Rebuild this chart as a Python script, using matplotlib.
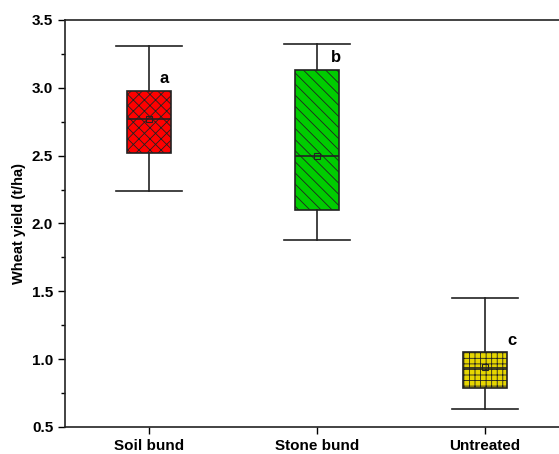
import matplotlib
matplotlib.use("Agg")
import matplotlib.pyplot as plt
from matplotlib.ticker import MultipleLocator

plt.rcParams['font.family'] = ['Liberation Sans', 'DejaVu Sans']
plt.rcParams['hatch.linewidth'] = 0.6

categories = ["Soil bund", "Stone bund", "Untreated"]
whislo = [2.24, 1.88, 0.63]
q1 = [2.52, 2.10, 0.79]
med = [2.77, 2.50, 0.935]
mean = [2.77, 2.50, 0.94]
q3 = [2.98, 3.13, 1.05]
whishi = [3.31, 3.32, 1.45]
letters = ["a", "b", "c"]
letter_y = [3.07, 3.22, 1.14]

colors = ["#FF0000", "#00CC00", "#E6D600"]
hatches = ["xxx", "\\\\\\", "+++"]
letter_dx = [0.09, 0.11, 0.16]

fig = plt.figure(figsize=(5.59, 4.54), dpi=100)
ax = fig.add_axes([0.1163, 0.0595, 0.9017, 0.8965])

stats = []
for i, c in enumerate(categories):
    stats.append(dict(label=c, whislo=whislo[i], q1=q1[i], med=med[i],
                      q3=q3[i], whishi=whishi[i], mean=mean[i], fliers=[]))

positions = [1, 2, 3]
bp = ax.bxp(stats, positions=positions, widths=0.26, capwidths=0.39,
            patch_artist=True, showmeans=True, showfliers=False,
            meanprops=dict(marker='s', markersize=4, markerfacecolor='none',
                           markeredgecolor='#222222', markeredgewidth=0.8),
            medianprops=dict(color='#222222', linewidth=1.2),
            whiskerprops=dict(color='#222222', linewidth=1.2),
            capprops=dict(color='#222222', linewidth=1.2),
            boxprops=dict(linewidth=1.2))
for patch, col, h in zip(bp['boxes'], colors, hatches):
    patch.set_facecolor(col)
    patch.set_edgecolor('#222222')
    patch.set_hatch(h)

for x, dx, l, y in zip(positions, letter_dx, letters, letter_y):
    ax.text(x + dx, y, l, fontsize=12, fontweight='bold', ha='center', va='center')

ax.set_xlim(0.5, 3.5)
ax.set_ylim(0.5, 3.5)
ax.yaxis.set_minor_locator(MultipleLocator(0.25))
ax.set_yticks([0.5, 1.0, 1.5, 2.0, 2.5, 3.0, 3.5])
ax.set_yticklabels(["0.5", "1.0", "1.5", "2.0", "2.5", "3.0", "3.5"])
ax.set_xticks(positions)
ax.set_xticklabels(categories)
ax.tick_params(axis='both', which='major', direction='out', length=5, width=1,
               labelsize=11)
ax.tick_params(axis='y', which='minor', direction='out', length=3, width=1)
for lab in ax.get_xticklabels() + ax.get_yticklabels():
    lab.set_fontweight('bold')
ax.set_ylabel("Wheat yield (t/ha)", fontsize=10.5, fontweight='bold')
for s in ax.spines.values():
    s.set_linewidth(1.2)
    s.set_color('#222222')

fig.savefig("out.png", dpi=100)
